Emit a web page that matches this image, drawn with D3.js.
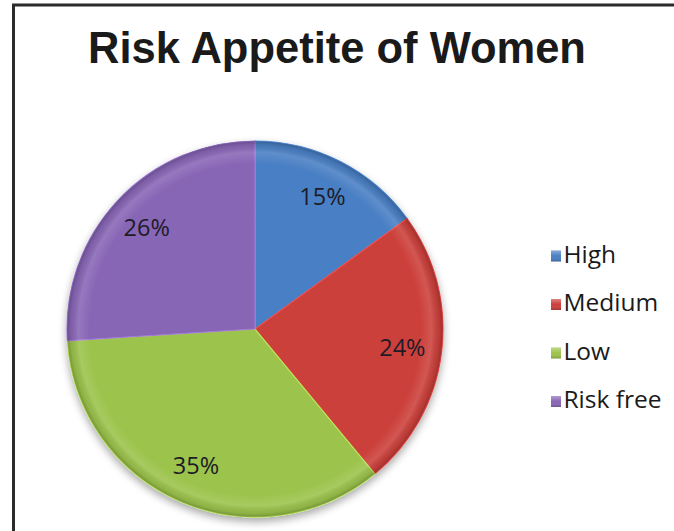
<!DOCTYPE html>
<html>
<head>
<meta charset="utf-8">
<script src="https://cdn.jsdelivr.net/npm/d3@7"></script>
<style>
  html, body { margin: 0; padding: 0; background: #fff; }
  svg { display: block; }
</style>
</head>
<body>
<svg id="chart" width="674" height="531"></svg>
<script>
// Risk appetite shares (percent)
const categories = ["High", "Medium", "Low", "Risk free"];
const values = [15, 24, 35, 26];
const colors = ["#4a7fc4", "#cc3f3b", "#9cc34b", "#8866b6"];
const titleText = "Risk Appetite of Women";

const svg = d3.select("#chart");
const W = 674, H = 531;
const cx = 255, cy = 329, R = 188;

const defs = svg.append("defs");

// soft drop shadow under the pie
const sh = defs.append("filter").attr("id", "shadow")
  .attr("x", "-20%").attr("y", "-20%").attr("width", "140%").attr("height", "140%");
sh.append("feGaussianBlur").attr("in", "SourceAlpha").attr("stdDeviation", 4).attr("result", "b");
sh.append("feOffset").attr("in", "b").attr("dx", 0).attr("dy", 4).attr("result", "o");
sh.append("feComponentTransfer").attr("in", "o").attr("result", "s")
  .append("feFuncA").attr("type", "linear").attr("slope", 0.35);
const m = sh.append("feMerge");
m.append("feMergeNode").attr("in", "s");
m.append("feMergeNode").attr("in", "SourceGraphic");

// rounded bevel shading near the rim
const rim = defs.append("radialGradient").attr("id", "rim")
  .attr("gradientUnits", "userSpaceOnUse")
  .attr("cx", cx).attr("cy", cy).attr("r", R);
rim.append("stop").attr("offset", "0%").attr("stop-color", "#fff").attr("stop-opacity", 0);
rim.append("stop").attr("offset", "88%").attr("stop-color", "#fff").attr("stop-opacity", 0);
rim.append("stop").attr("offset", "94%").attr("stop-color", "#fff").attr("stop-opacity", 0.12);
rim.append("stop").attr("offset", "98%").attr("stop-color", "#000").attr("stop-opacity", 0.08);
rim.append("stop").attr("offset", "100%").attr("stop-color", "#000").attr("stop-opacity", 0.25);

// legend swatch bevel
const sw = defs.append("linearGradient").attr("id", "swatch")
  .attr("x1", 0).attr("y1", 0).attr("x2", 0).attr("y2", 1);
sw.append("stop").attr("offset", "0%").attr("stop-color", "#fff").attr("stop-opacity", 0.35);
sw.append("stop").attr("offset", "50%").attr("stop-color", "#fff").attr("stop-opacity", 0);
sw.append("stop").attr("offset", "100%").attr("stop-color", "#000").attr("stop-opacity", 0.2);

// frame
svg.append("path")
  .attr("d", `M13.5,${H} L13.5,5 L${W},5`)
  .attr("fill", "none").attr("stroke", "#2b2b2b").attr("stroke-width", 3);

// title
svg.append("text")
  .attr("x", 337).attr("y", 63)
  .attr("text-anchor", "middle")
  .attr("font-family", "'Liberation Sans', Arial, sans-serif")
  .attr("font-weight", "bold").attr("font-size", 43.5)
  .attr("fill", "#1a1a1a")
  .text(titleText);

const data = categories.map((c, i) => ({ name: c, value: values[i], color: colors[i] }));
const pie = d3.pie().value(d => d.value).sort(null);
const arcs = pie(data);
const arc = d3.arc().innerRadius(0).outerRadius(R);
const labelArc = d3.arc().innerRadius(R * 0.79).outerRadius(R * 0.79);

const g = svg.append("g").attr("transform", `translate(${cx},${cy})`);
const pieG = g.append("g").attr("filter", "url(#shadow)");

pieG.selectAll("path.slice").data(arcs).join("path")
  .attr("class", "slice")
  .attr("d", arc)
  .attr("fill", d => d.data.color)
  .attr("stroke", d => d3.color(d.data.color).brighter(0.5))
  .attr("stroke-width", 1.2);

// rim shading overlay
svg.append("circle")
  .attr("cx", cx).attr("cy", cy).attr("r", R)
  .attr("fill", "url(#rim)")
  .attr("pointer-events", "none");

// percent labels
const labels = svg.append("g").attr("transform", `translate(${cx},${cy})`);
labels.selectAll("text.pct").data(arcs).join("text")
  .attr("class", "pct")
  .attr("transform", d => {
    const [x, y] = labelArc.centroid(d);
    return `translate(${x},${y})`;
  })
  .attr("text-anchor", "middle")
  .attr("dy", "0.36em")
  .attr("font-family", "'Open Sans', sans-serif")
  .attr("font-size", 23.5)
  .attr("fill", "#1c1c28")
  .text(d => d.data.value + "%");

// legend
const legY = d3.scalePoint().domain(categories).range([262.5, 408]);
const leg = svg.append("g");
const rows = leg.selectAll("g").data(data).join("g")
  .attr("transform", d => `translate(551,${legY(d.name)})`);
rows.append("rect").attr("x", 0).attr("y", -12).attr("width", 10).attr("height", 11)
  .attr("fill", d => d.color);
rows.append("rect").attr("x", 0).attr("y", -12).attr("width", 10).attr("height", 11)
  .attr("fill", "url(#swatch)");
rows.append("text").attr("x", 12.5).attr("y", 0)
  .attr("font-family", "'Open Sans', sans-serif")
  .attr("font-size", 24.5)
  .attr("fill", "#1a1a1a")
  .text(d => d.name);
</script>
</body>
</html>
